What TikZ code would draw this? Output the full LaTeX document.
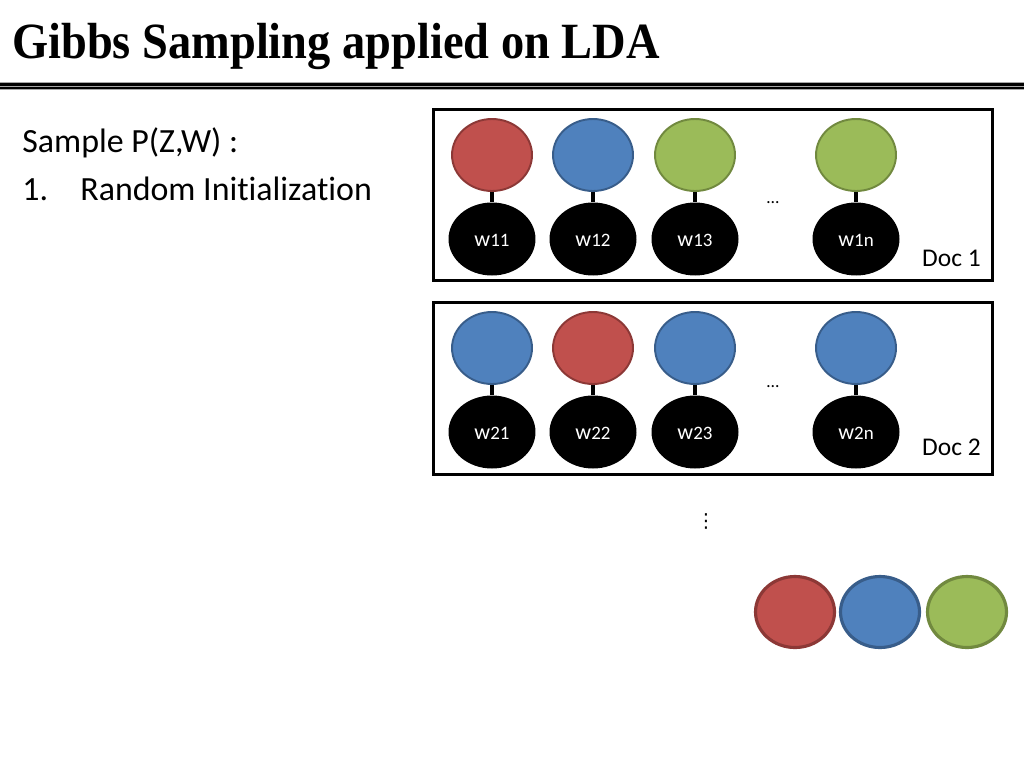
\documentclass[tikz,border=0pt]{standalone}
\usepackage{fontspec}
\setmainfont{Carlito}[Ligatures={NoCommon}]
\newfontfamily\titlefont{Liberation Serif}
\newfontfamily\symbolfont{DejaVu Sans}
\usepackage{tikz}
\usetikzlibrary{positioning}
\usetikzlibrary{shapes.geometric}
\pgfdeclarelayer{nodelayer}
\pgfdeclarelayer{edgelayer}
\pgfsetlayers{nodelayer,edgelayer,main}
\definecolor{topicred}{HTML}{C0504D}
\definecolor{topicredline}{HTML}{8C3836}
\definecolor{topicblue}{HTML}{4F81BD}
\definecolor{topicblueline}{HTML}{385D8A}
\definecolor{topicgreen}{HTML}{9BBB59}
\definecolor{topicgreenline}{HTML}{71893F}
\newcommand{\wlabel}[1]{{\fontsize{12.6}{14}\selectfont w}{\fontsize{10.8}{12}\selectfont #1}}
\tikzset{
    none/.style = {inner sep=0pt},
    topic/.style = {ellipse, inner sep=0pt, minimum width=1.6cm, minimum height=1.44cm, line width=1.1pt},
    topicred/.style = {topic, fill=topicred, draw=topicredline},
    topicblue/.style = {topic, fill=topicblue, draw=topicblueline},
    topicgreen/.style = {topic, fill=topicgreen, draw=topicgreenline},
    word/.style = {ellipse, inner sep=0pt, minimum width=1.74cm, minimum height=1.46cm, fill=black, text=white, text height=8pt, text depth=0pt},
    docbox/.style = {rectangle, draw=black, line width=1.7pt, minimum width=11.2cm, minimum height=3.44cm},
    stem/.style = {draw=black, line width=2.2pt},
    key/.style = {line width=1.8pt, minimum width=1.58cm, minimum height=1.42cm}
}

\begin{document}
\begin{tikzpicture}[x=0.02cm, y=-0.02cm]
  \useasboundingbox (0, 0) rectangle (1024, 768);
  % title and rule
  \node [style=none, anchor=base west] (title) at (12, 58) {\scalebox{0.914}[1]{\titlefont\bfseries\fontsize{28.9}{30}\selectfont Gibbs Sampling applied on LDA}};
  \fill [gray!70] (0, 82) rectangle (1024, 89.5);
  \fill [black] (0, 82.8) rectangle (1024, 86.2);
  \fill [black] (0, 87.4) rectangle (1024, 88.8);
  % text
  \node [style=none, anchor=base west] (sample) at (22, 152) {\fontsize{19.3}{22}\selectfont Sample P(Z,W) :};
  \node [style=none, anchor=base west] (one) at (22, 200) {\fontsize{19.3}{22}\selectfont 1.};
  \node [style=none, anchor=base west] (init) at (80, 200) {\fontsize{19.3}{22}\selectfont Random Initialization};
  \begin{pgfonlayer}{nodelayer}
    % doc 1
    \node [docbox] (doc1) at (713, 195) {};
    \node [topicred] (z11) at (492, 155) {};
    \node [topicblue] (z12) at (593, 155) {};
    \node [topicgreen] (z13) at (695, 155) {};
    \node [topicgreen] (z1n) at (856, 155) {};
    \node [word] (w11) at (492, 239) {\wlabel{11}};
    \node [word] (w12) at (593, 239) {\wlabel{12}};
    \node [word] (w13) at (695, 239) {\wlabel{13}};
    \node [word] (w1n) at (856, 239) {\wlabel{1n}};
    \node [style=none] (dots1) at (773, 203) {\fontsize{10}{12}\selectfont\dots};
    \node [style=none] (label1) at (951.5, 258) {\fontsize{14.5}{16}\selectfont Doc 1};
    % doc 2
    \node [docbox] (doc2) at (713, 388.5) {};
    \node [topicblue] (z21) at (492, 348) {};
    \node [topicred] (z22) at (593, 348) {};
    \node [topicblue] (z23) at (695, 348) {};
    \node [topicblue] (z2n) at (856, 348) {};
    \node [word] (w21) at (492, 432) {\wlabel{21}};
    \node [word] (w22) at (593, 432) {\wlabel{22}};
    \node [word] (w23) at (695, 432) {\wlabel{23}};
    \node [word] (w2n) at (856, 432) {\wlabel{2n}};
    \node [style=none] (dots2) at (773, 387) {\fontsize{10}{12}\selectfont\dots};
    \node [style=none] (label2) at (951.5, 447) {\fontsize{14.5}{16}\selectfont Doc 2};
    % more docs
    \node [style=none] (vdots) at (706, 521) {\symbolfont\fontsize{11}{12}\selectfont ⋮};
    % topics
    \node [topicred, key] (kred) at (795, 612) {};
    \node [topicblue, key] (kblue) at (880, 612) {};
    \node [topicgreen, key] (kgreen) at (967, 612) {};
  \end{pgfonlayer}
  \begin{pgfonlayer}{edgelayer}
    \draw [stem] (z11) to (w11);
    \draw [stem] (z12) to (w12);
    \draw [stem] (z13) to (w13);
    \draw [stem] (z1n) to (w1n);
    \draw [stem] (z21) to (w21);
    \draw [stem] (z22) to (w22);
    \draw [stem] (z23) to (w23);
    \draw [stem] (z2n) to (w2n);
  \end{pgfonlayer}
\end{tikzpicture}
\end{document}
